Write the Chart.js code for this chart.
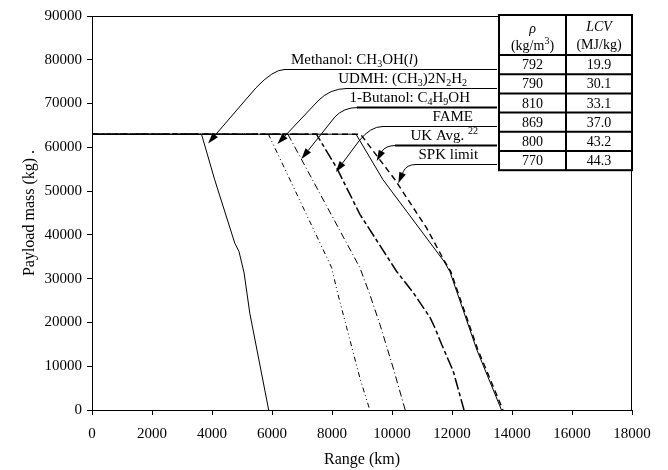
<!DOCTYPE html>
<html>
<head>
<meta charset="utf-8">
<script src="https://cdn.jsdelivr.net/npm/chart.js@4/dist/chart.umd.min.js"></script>
<style>
  html, body { margin: 0; padding: 0; background: #fff; }
</style>
</head>
<body>
<canvas id="payloadChart" width="668" height="470"></canvas>
<script>
// payload-range curves (range in km, payload in kg)
const methanolRange   = [0, 3650, 4090, 4760, 4900, 5070, 5260, 5890];
const methanolPayload = [63000, 63000, 52600, 38100, 36200, 31300, 22100, 0];
const udmhRange   = [0, 5880, 7990, 8170, 8490, 8930, 9260];
const udmhPayload = [63000, 63000, 32500, 27200, 18800, 7300, 0];
const butanolRange   = [0, 6530, 8930, 9260, 9600, 10040, 10440];
const butanolPayload = [63000, 63000, 32500, 26400, 19500, 9600, 0];
const fameRange   = [0, 7480, 8150, 8930, 10150, 10710, 11270, 11430, 11660, 12040, 12400];
const famePayload = [63000, 63000, 55400, 44700, 31700, 26800, 21100, 18800, 14900, 8900, 0];
const ukRange   = [0, 8800, 9700, 11740, 11930, 12830, 13650];
const ukPayload = [63000, 63000, 52600, 33900, 31600, 13700, 0];
const spkRange   = [0, 8950, 10100, 11150, 11750, 11960, 12860, 13700];
const spkPayload = [63000, 63000, 52600, 41600, 34000, 31600, 13800, 0];

// fuel properties table
const tableDensity = ['792', '790', '810', '869', '800', '770'];
const tableLcv = ['19.9', '30.1', '33.1', '37.0', '43.2', '44.3'];

const SERIF = '"Liberation Serif", "Times New Roman", serif';

// callout labels (rich text: sub / sup / italic pieces)
const labelText = [
  [{t: 'Methanol: CH'}, {t: '3', sub: 1}, {t: 'OH('}, {t: 'l', it: 1}, {t: ')'}],
  [{t: 'UDMH: (CH'}, {t: '3', sub: 1}, {t: ')2N'}, {t: '2', sub: 1}, {t: 'H'}, {t: '2', sub: 1}],
  [{t: '1-Butanol: C'}, {t: '4', sub: 1}, {t: 'H'}, {t: '9', sub: 1}, {t: 'OH'}],
  [{t: 'FAME'}],
  [{t: 'UK Avg. '}, {t: '22', sup: 1}],
  [{t: 'SPK limit'}]
];

// callout geometry in data units (range, payload)
const callouts = [
  {textRight: 10865, lineY: 77900, lineStart: 6390, ctrl: 6040, bend: [5460, 73550], tip: [3870, 60900], lw: 1},
  {textRight: 12500, lineY: 73550, lineStart: 8460, ctrl: 7930, bend: [7530, 70580], tip: [6180, 60760], lw: 1},
  {textRight: 12600, lineY: 69200, lineStart: 8830, ctrl: 8385, bend: [8095, 66930], tip: [6980, 57340], lw: 2},
  {textRight: 12700, lineY: 64870, lineStart: 9660, ctrl: 9280, bend: [8900, 61450], tip: [8130, 54370], lw: 1},
  {textRight: 12870, lineY: 60530, lineStart: 10100, ctrl: 9775, bend: [9655, 59000], tip: [9490, 56880], lw: 2},
  {textRight: 12870, lineY: 56190, lineStart: 10765, ctrl: 10485, bend: [10375, 54435], tip: [10210, 51785], lw: 1}
];
const LINE_END = 13500;

function pts(xs, ys) {
  return xs.map((x, i) => ({x: x, y: ys[i]}));
}

function drawRich(ctx, segs, x, y, size, align) {
  const fontFor = s => (s.it ? 'italic ' : '') + ((s.sub || s.sup) ? Math.round(size * 0.68) : size) + 'px ' + SERIF;
  let w = 0;
  segs.forEach(s => { ctx.font = fontFor(s); w += ctx.measureText(s.t).width; });
  let cx = align === 'right' ? x - w : align === 'center' ? x - w / 2 : x;
  ctx.textAlign = 'left';
  ctx.textBaseline = 'alphabetic';
  segs.forEach(s => {
    ctx.font = fontFor(s);
    const dy = s.sub ? size * 0.22 : s.sup ? -size * 0.4 : 0;
    ctx.fillText(s.t, cx, y + dy);
    cx += ctx.measureText(s.t).width;
  });
}

const overlay = {
  id: 'overlay',
  afterDraw(chart) {
    const ctx = chart.ctx;
    const a = chart.chartArea;
    const xs = chart.scales.x, ys = chart.scales.y;
    ctx.save();
    ctx.strokeStyle = '#000';
    ctx.fillStyle = '#000';

    // frame round the plot
    ctx.lineWidth = 1;
    ctx.strokeRect(a.left + 0.5, a.top + 0.5, a.right - a.left - 1, a.bottom - a.top);

    // callouts
    callouts.forEach((c, i) => {
      const y0 = Math.round(ys.getPixelForValue(c.lineY)) + 0.5;
      const x0 = xs.getPixelForValue(c.lineStart);
      const xe = xs.getPixelForValue(LINE_END);
      const cx = xs.getPixelForValue(c.ctrl);
      const bx = xs.getPixelForValue(c.bend[0]), by = ys.getPixelForValue(c.bend[1]);
      const tx = xs.getPixelForValue(c.tip[0]), ty = ys.getPixelForValue(c.tip[1]);

      ctx.lineWidth = c.lw;
      ctx.beginPath();
      ctx.moveTo(x0, y0);
      ctx.lineTo(xe, y0);
      ctx.stroke();

      const dx = tx - bx, dy = ty - by;
      const len = Math.hypot(dx, dy);
      const ux = dx / len, uy = dy / len;
      const headL = 11, headW = 3.5;
      ctx.lineWidth = 1;
      ctx.beginPath();
      ctx.moveTo(x0 + 1, y0);
      ctx.quadraticCurveTo(cx, y0, bx, by);
      ctx.lineTo(tx - ux * headL, ty - uy * headL);
      ctx.stroke();

      ctx.beginPath();
      ctx.moveTo(tx, ty);
      ctx.lineTo(tx - ux * headL - uy * headW, ty - uy * headL + ux * headW);
      ctx.lineTo(tx - ux * headL + uy * headW, ty - uy * headL - ux * headW);
      ctx.closePath();
      ctx.fill();

      drawRich(ctx, labelText[i], xs.getPixelForValue(c.textRight), y0 - 6, 15, 'right');
    });

    // property table in the top right corner
    const tw = 133, colW = 67, headH = 40, rowH = 19.2;
    const tl = a.right - tw, tt = a.top - 1;
    const tb = tt + headH + rowH * tableDensity.length;
    ctx.fillStyle = '#fff';
    ctx.fillRect(tl, tt, tw, tb - tt);
    ctx.fillStyle = '#000';
    ctx.lineWidth = 2;
    ctx.strokeRect(tl, tt, tw, tb - tt);
    ctx.beginPath();
    ctx.moveTo(tl + colW, tt);
    ctx.lineTo(tl + colW, tb);
    for (let r = 0; r < tableDensity.length; r++) {
      const ry = tt + headH + rowH * r;
      ctx.moveTo(tl, ry);
      ctx.lineTo(tl + tw, ry);
    }
    ctx.stroke();

    const c1 = tl + colW / 2, c2 = tl + colW + (tw - colW) / 2;
    drawRich(ctx, [{t: 'ρ', it: 1}], c1, tt + 18, 14, 'center');
    drawRich(ctx, [{t: '(kg/m'}, {t: '3', sup: 1}, {t: ')'}], c1, tt + 35, 14, 'center');
    drawRich(ctx, [{t: 'LCV', it: 1}], c2, tt + 16, 14, 'center');
    drawRich(ctx, [{t: '(MJ/kg)'}], c2, tt + 34, 14, 'center');
    ctx.font = '14px ' + SERIF;
    ctx.textAlign = 'center';
    ctx.textBaseline = 'middle';
    tableDensity.forEach((d, r) => {
      const ry = tt + headH + rowH * r + rowH / 2 + 1;
      ctx.fillText(d, c1, ry);
      ctx.fillText(tableLcv[r], c2, ry);
    });
    ctx.restore();
  }
};

const ctx = document.getElementById('payloadChart').getContext('2d');
new Chart(ctx, {
  type: 'line',
  data: {
    datasets: [
      {label: 'Methanol', data: pts(methanolRange, methanolPayload), borderWidth: 1},
      {label: 'UDMH', data: pts(udmhRange, udmhPayload), borderWidth: 1, borderDash: [5, 3, 1, 3, 1, 3]},
      {label: '1-Butanol', data: pts(butanolRange, butanolPayload), borderWidth: 1, borderDash: [7, 3, 1, 3]},
      {label: 'FAME', data: pts(fameRange, famePayload), borderWidth: 1.5, borderDash: [12, 3, 4, 3]},
      {label: 'UK Avg.', data: pts(ukRange, ukPayload), borderWidth: 1},
      {label: 'SPK limit', data: pts(spkRange, spkPayload), borderWidth: 1.4, borderDash: [6, 4]}
    ]
  },
  options: {
    responsive: false,
    animation: false,
    devicePixelRatio: 1,
    layout: {padding: {top: 16, right: 36, left: 0, bottom: 0}},
    plugins: {legend: {display: false}, tooltip: {enabled: false}},
    elements: {
      point: {radius: 0},
      line: {tension: 0, borderColor: '#000', fill: false}
    },
    scales: {
      x: {
        type: 'linear', min: 0, max: 18000,
        ticks: {stepSize: 2000, autoSkip: false, maxRotation: 0, color: '#000', padding: 10,
                font: {family: SERIF, size: 15}, callback: v => String(v)},
        grid: {drawOnChartArea: false, color: '#000', tickLength: 5},
        border: {color: '#000', width: 1},
        title: {display: true, text: 'Range (km)', color: '#000',
                font: {family: SERIF, size: 16, lineHeight: 1}, padding: {top: 0, bottom: 2}},
        afterFit: s => { s.height = 60; }
      },
      y: {
        min: 0, max: 90000,
        ticks: {stepSize: 10000, color: '#000', padding: 5,
                font: {family: SERIF, size: 15}, callback: v => String(v)},
        grid: {drawOnChartArea: false, color: '#000', tickLength: 5},
        border: {color: '#000', width: 1},
        title: {display: true, text: 'Payload mass (kg) .', color: '#000',
                font: {family: SERIF, size: 16, lineHeight: 1}, padding: {top: 22, bottom: 0}},
        afterFit: s => { s.width = 92; }
      }
    }
  },
  plugins: [overlay]
});
</script>
</body>
</html>
